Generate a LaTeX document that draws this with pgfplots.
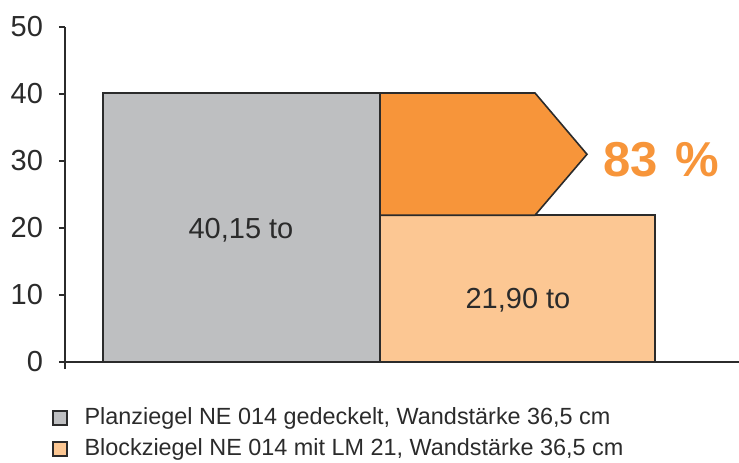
\documentclass[border=0pt]{standalone}
\usepackage{fontspec}
\setmainfont{Liberation Sans}
\usepackage{pgfplots}
\pgfplotsset{compat=1.18}
\definecolor{cgray}{HTML}{BEBFC1}
\definecolor{corange}{HTML}{F7953A}
\definecolor{clight}{HTML}{FCC793}
\definecolor{cdark}{HTML}{2B2B2B}
\begin{document}
\begin{tikzpicture}
\useasboundingbox (-32.5pt,-46.5pt) rectangle (337pt,184.5pt);
\begin{axis}[
  at={(0,0)}, anchor=south west,
  scale only axis, width=337pt, height=171pt,
  xmin=0, xmax=674, ymin=-1.05, ymax=50,
  clip=false,
  axis x line=none, axis y line=left,
  axis line style={-, line width=1pt, cdark},
  xtick=\empty,
  ytick={0,10,20,30,40,50},
  tick align=outside, major tick length=3pt,
  tick style={line width=0.9pt, cdark},
  /pgf/number format/assume math mode=true,
  yticklabel style={font=\fontsize{14.5}{17}\selectfont, text=cdark, xshift=-4.5pt},
  legend style={at={(-0.0193,-0.097)}, anchor=north west, draw=none, fill=none,
    font=\fontsize{11.7}{14}\selectfont, text=cdark,
    inner sep=0pt, column sep=8.5pt, row sep=0pt,
    nodes={inner ysep=2pt, inner xsep=0pt, text height=8.8pt, text depth=2.7pt},
    cells={anchor=west}},
  legend image code/.code={\draw[#1, draw=cdark, line width=0.6pt] (0pt,-3.5pt) rectangle (7pt,3.5pt);},
]
\addplot[fill=cgray, draw=cdark, line width=0.8pt] coordinates {(38,0) (38,40.15) (315,40.15) (315,0)} -- cycle;
\addlegendentry{Planziegel NE 014 gedeckelt, Wandstärke 36,5 cm}
\addplot[fill=clight, draw=cdark, line width=0.8pt] coordinates {(315,0) (315,21.9) (590,21.9) (590,0)} -- cycle;
\addlegendentry{Blockziegel NE 014 mit LM 21, Wandstärke 36,5 cm}
\addplot[fill=corange, draw=cdark, line width=0.8pt, forget plot] coordinates {(315,21.9) (315,40.15) (470,40.15) (522,31.0) (470,21.9)} -- cycle;
\addplot[cdark, line width=1pt, forget plot] coordinates {(0,0) (674,0)};
\node[font=\fontsize{14.5}{17}\selectfont, text=cdark] at (axis cs:176,19.7) {40,15 to};
\node[font=\fontsize{14.5}{17}\selectfont, text=cdark] at (axis cs:453,9.2) {21,90 to};
\node[font=\bfseries\fontsize{24.5}{27}\selectfont, text=corange, anchor=west, inner sep=0pt] at (axis cs:538,30.2) {83\hspace{0.35em}\%};
\end{axis}
\end{tikzpicture}
\end{document}
